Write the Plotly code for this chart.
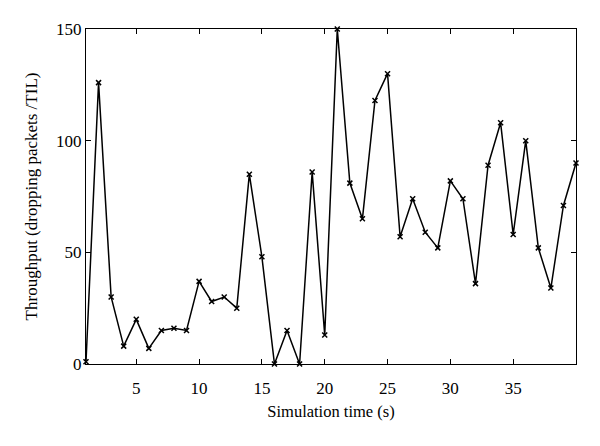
"""Throughput vs simulation time line chart."""

import plotly.graph_objects as go

_FONT = dict(family="Liberation Serif, DejaVu Serif, serif", size=17, color="black")

time_s = list(range(1, 41))
throughput = [
    1, 126, 30, 8, 20, 7, 15, 16, 15, 37,
    28, 30, 25, 85, 48, 0, 15, 0, 86, 13,
    150, 81, 65, 118, 130, 57, 74, 59, 52, 82,
    74, 36, 89, 108, 58, 100, 52, 34, 71, 90,
]
x_ticks = [5, 10, 15, 20, 25, 30, 35]
y_ticks = [0, 50, 100, 150]

fig = go.Figure(go.Scatter(
    x=time_s,
    y=throughput,
    mode="lines+markers",
    line=dict(color="black", width=1.5),
    marker=dict(symbol="x-thin", size=5, color="black",
                line=dict(width=1.5, color="black")),
    cliponaxis=False,
    showlegend=False,
))

axis_common = dict(
    showline=True, linecolor="black", linewidth=1, mirror="ticks",
    ticks="inside", ticklen=5, tickcolor="black", tickwidth=1,
    showgrid=False, zeroline=False,
)

# the page body adds an 8px offset, so the figure is 8px smaller
fig.update_layout(
    width=592, height=438,
    font=_FONT,
    paper_bgcolor="white", plot_bgcolor="white",
    margin=dict(l=78, r=24, t=21, b=82),
    xaxis=dict(
        range=[1, 40], tickvals=x_ticks, ticklabelstandoff=9,
        title=dict(text="Simulation time (s)", standoff=8, font=dict(size=16.5)),
        **axis_common,
    ),
    yaxis=dict(
        range=[0, 150], tickvals=y_ticks,
        title=dict(text="Throughput (dropping packets /TIL)", standoff=14,
                   font=dict(size=17)),
        **axis_common,
    ),
)

fig.write_html("out.html")
